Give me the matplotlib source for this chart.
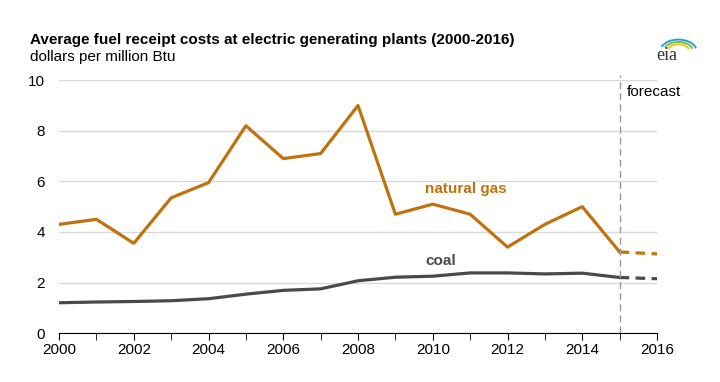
import matplotlib.pyplot as plt
import numpy as np
from matplotlib.patches import Arc

plt.rcParams['font.family'] = ['Liberation Sans', 'DejaVu Sans']

years = list(range(2000, 2017))
gas = [4.30, 4.50, 3.55, 5.35, 5.95, 8.20, 6.90, 7.10, 9.00, 4.70,
       5.10, 4.70, 3.40, 4.30, 5.00, 3.21, 3.13]
coal = [1.20, 1.23, 1.25, 1.28, 1.36, 1.54, 1.69, 1.75, 2.07, 2.21,
        2.25, 2.38, 2.38, 2.34, 2.37, 2.20, 2.15]
forecast_start = 2015

gas_color = '#c0720f'
coal_color = '#4a4a4a'

fig = plt.figure(figsize=(7.2, 3.82), dpi=100)
ax = fig.add_axes([0.082, 0.128, 0.8305, 0.662])

n = years.index(forecast_start) + 1
ax.plot(years[:n], gas[:n], color=gas_color, lw=2.3)
ax.plot(years[n - 1:], gas[n - 1:], color=gas_color, lw=2.3, ls=(0, (3, 2)))
ax.plot(years[:n], coal[:n], color=coal_color, lw=2.3)
ax.plot(years[n - 1:], coal[n - 1:], color=coal_color, lw=2.3, ls=(0, (3, 2)))

ax.set_xlim(2000, 2016)
ax.set_ylim(0, 10)
ax.set_yticks(np.arange(0, 11, 2))
ax.set_xticks(range(2000, 2017, 2))
ax.set_xticks(years, minor=True)
ax.grid(axis='y', color='#d9d9d9', lw=1)
ax.set_axisbelow(True)
for s in ['top', 'right', 'left']:
    ax.spines[s].set_visible(False)
ax.spines['bottom'].set_color('black')
ax.tick_params(axis='y', length=0, labelsize=11, pad=10)
ax.tick_params(axis='x', which='both', length=5, direction='out', labelsize=11, pad=2)

ax.axvline(forecast_start, ymin=0, ymax=1.02, color='#999999', lw=1, ls=(0, (5, 3)), clip_on=False)
ax.text(2015.2, 9.55, 'forecast', fontsize=11, va='center', ha='left')

ax.text(2009.8, 5.7, 'natural gas', color=gas_color, fontsize=11, fontweight='bold', va='center')
ax.text(2009.8, 2.85, 'coal', color=coal_color, fontsize=11, fontweight='bold', va='center')

fig.text(30 / 720, 1 - 40 / 382, 'Average fuel receipt costs at electric generating plants (2000-2016)',
         fontsize=11, fontweight='bold', va='center')
fig.text(30 / 720, 1 - 57 / 382, 'dollars per million Btu', fontsize=11, va='center')

# eia logo
fig.text(667 / 720, 1 - 55 / 382, 'eia', family='Liberation Serif', fontsize=13, ha='center', va='center', color='#333333')
lax = fig.add_axes([656 / 720, 1 - 50 / 382, 28 / 720, 13 / 382])
lax.set_xlim(0, 1)
lax.set_ylim(0, 1)
lax.axis('off')
for c, r in [('#f2c01e', 0.6), ('#7fbf3f', 0.8), ('#2a9fd6', 1.0)]:
    lax.add_patch(Arc((0.8, -0.1), r * 1.3, r * 1.8, theta1=20, theta2=150,
                      color=c, lw=1.4, clip_on=False))

fig.savefig('out.png', dpi=100)
